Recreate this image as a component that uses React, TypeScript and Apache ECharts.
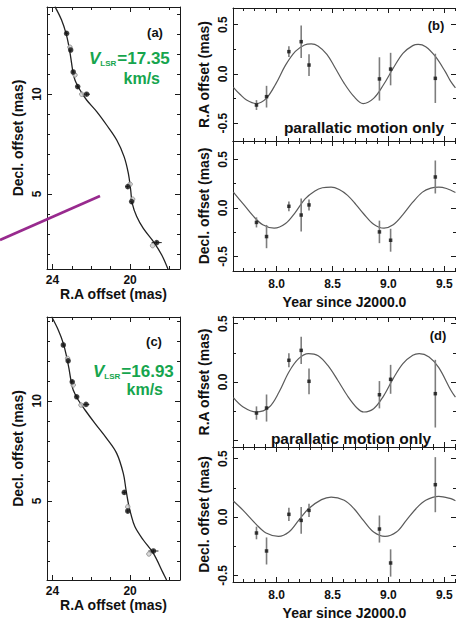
import React, { useEffect, useRef } from "react";
import * as echarts from "echarts";

const FONT = '"Liberation Sans", Arial, Helvetica, sans-serif';
const GREEN = "#16a54e";

// epochs of the 8 observations (year since J2000.0)
const epochs = [7.82, 7.91, 8.11, 8.22, 8.29, 8.92, 9.02, 9.42];

// (b) parallactic residuals
const bRA = [-0.315, -0.23, 0.227, 0.328, 0.091, -0.05, 0.05, -0.044];
const bRAErr = [0.05, 0.11, 0.055, 0.165, 0.11, 0.22, 0.165, 0.25];
const bDec = [-0.149, -0.295, 0.017, -0.073, 0.031, -0.247, -0.333, 0.319];
const bDecErr = [0.052, 0.12, 0.05, 0.17, 0.057, 0.116, 0.118, 0.17];
// (d) parallactic residuals
const dRA = [-0.266, -0.223, 0.186, 0.271, 0.006, -0.109, 0.023, -0.1];
const dRAErr = [0.057, 0.116, 0.06, 0.117, 0.11, 0.117, 0.124, 0.29];
const dDec = [-0.137, -0.291, 0.023, -0.029, 0.057, -0.103, -0.394, 0.277];
const dDecErr = [0.054, 0.116, 0.057, 0.114, 0.057, 0.116, 0.117, 0.236];

// model curves
const bRACurveT = [7.613, 7.672, 7.731, 7.818, 7.906, 7.993, 8.08, 8.168, 8.25, 8.31, 8.37, 8.45, 8.518, 8.605, 8.693, 8.774, 8.868, 8.955, 9.043, 9.13, 9.218, 9.267, 9.334, 9.422, 9.509, 9.559, 9.6];
const bRACurveV = [-0.135, -0.206, -0.264, -0.3, -0.25, -0.1, 0.09, 0.23, 0.295, 0.305, 0.285, 0.2, 0.074, -0.095, -0.23, -0.3, -0.247, -0.112, 0.058, 0.21, 0.288, 0.301, 0.277, 0.176, 0.024, -0.078, -0.14];
const bDecCurveT = [7.613, 7.701, 7.788, 7.876, 7.978, 8.08, 8.168, 8.255, 8.343, 8.41, 8.488, 8.56, 8.635, 8.71, 8.78, 8.868, 8.961, 9.043, 9.13, 9.218, 9.305, 9.38, 9.451, 9.52, 9.6];
const bDecCurveV = [0.163, 0.042, -0.08, -0.174, -0.208, -0.16, -0.045, 0.094, 0.175, 0.208, 0.215, 0.19, 0.13, 0.035, -0.0625, -0.167, -0.208, -0.174, -0.069, 0.059, 0.163, 0.205, 0.215, 0.2, 0.16];
const dRACurveT = [7.613, 7.701, 7.818, 7.935, 8.022, 8.11, 8.197, 8.285, 8.372, 8.46, 8.547, 8.635, 8.722, 8.78, 8.868, 8.955, 9.043, 9.13, 9.218, 9.276, 9.364, 9.451, 9.559, 9.6];
const dRACurveV = [-0.134, -0.214, -0.257, -0.214, -0.086, 0.086, 0.2, 0.243, 0.225, 0.14, 0.015, -0.12, -0.225, -0.257, -0.229, -0.123, 0.029, 0.157, 0.229, 0.243, 0.214, 0.123, -0.071, -0.13];
const dDecCurveT = [7.613, 7.701, 7.818, 7.906, 8.017, 8.11, 8.197, 8.285, 8.402, 8.488, 8.605, 8.693, 8.78, 8.868, 8.97, 9.072, 9.16, 9.247, 9.334, 9.451, 9.559, 9.6];
const dDecCurveV = [0.137, 0.057, -0.063, -0.137, -0.166, -0.129, -0.029, 0.071, 0.149, 0.171, 0.143, 0.071, -0.034, -0.129, -0.166, -0.129, -0.029, 0.071, 0.143, 0.177, 0.157, 0.14];

// (a) sky track, V_LSR = 17.35 km/s
const aCurveRA = [23.87, 23.53, 23.3, 23.15, 23.05, 22.96, 22.84, 22.58, 22.24, 21.72, 21.21, 20.69, 20.31, 20.09, 19.97, 19.89, 19.66, 19.32, 18.8, 18.37, 18.03];
const aCurveDec = [14.37, 13.7, 13.03, 12.37, 11.78, 11.2, 10.7, 10.2, 9.7, 9.12, 8.45, 7.7, 6.87, 6.03, 5.2, 4.53, 3.87, 3.28, 2.62, 1.95, 1.2];
const aBlackRA = [23.27, 23.06, 22.93, 22.7, 22.24, 20.12, 19.92, 18.63];
const aBlackDec = [13.03, 12.2, 11.1, 10.37, 9.99, 5.37, 4.62, 2.57];
const aBlackRAErr = [0.08, 0.08, 0.08, 0.08, 0.17, 0.12, 0.08, 0.26];
const aBlackDecErr = [0.1, 0.1, 0.1, 0.1, 0.08, 0.1, 0.12, 0.08];
const aGrayRA = [23.1, 22.84, 22.49, 20.0, 19.87, 18.84];
const aGrayDec = [12.34, 10.95, 9.99, 5.49, 4.74, 2.42];

// (c) sky track, V_LSR = 16.93 km/s
const cCurveRA = [24.04, 23.7, 23.44, 23.27, 23.15, 23.05, 22.93, 22.67, 22.32, 21.81, 21.21, 20.69, 20.35, 20.21, 20.09, 19.97, 19.75, 19.32, 18.8, 18.29, 18.12];
const cCurveDec = [14.2, 13.54, 12.87, 12.2, 11.62, 11.04, 10.54, 10.04, 9.54, 8.87, 8.12, 7.37, 6.37, 5.54, 4.87, 4.37, 3.7, 3.04, 2.37, 1.37, 1.04];
const cBlackRA = [23.44, 23.19, 22.98, 22.75, 22.27, 20.3, 20.12, 18.8];
const cBlackDec = [12.79, 12.0, 10.95, 10.2, 9.82, 5.42, 4.49, 2.49];
const cBlackRAErr = [0.08, 0.08, 0.08, 0.08, 0.17, 0.1, 0.08, 0.26];
const cBlackDecErr = [0.1, 0.1, 0.1, 0.1, 0.08, 0.1, 0.12, 0.08];
const cGrayRA = [23.22, 22.93, 22.53, 20.12, 19.03];
const cGrayDec = [12.12, 10.79, 9.79, 4.7, 2.34];

// tick positions / labels
const skyXMajor = [20, 24];
const skyXMinor = [18, 19, 21, 22, 23];
const skyYMajor = [5, 10];
const skyYMinor = [2, 3, 4, 6, 7, 8, 9, 11, 12, 13, 14];
const yearMajor = [8.0, 8.5, 9.0, 9.5];
const yearMinor = [7.7, 7.8, 7.9, 8.1, 8.2, 8.3, 8.4, 8.6, 8.7, 8.8, 8.9, 9.1, 9.2, 9.3, 9.4, 9.6];
const offMajor = [-0.5, 0, 0.5];
const offMinor = [-0.25, 0.25];

type Spec = {
  min: number; max: number; inverse?: boolean;
  majors: number[]; minors: number[]; labels: number[];
  fmt: (v: number) => string; name: string; nameGap: number; margin: number;
};

function buildOption() {
  const grids: any[] = [];
  const xAxes: any[] = [];
  const yAxes: any[] = [];
  const series: any[] = [];

  const axis = (s: Spec, gridIndex: number, position: string, major: boolean, showLabel: boolean, showName: boolean, isY: boolean) => ({
    type: "value", gridIndex, position, min: s.min, max: s.max, inverse: !!s.inverse,
    axisLine: { show: major, onZero: false, lineStyle: { color: "#1a1a1a", width: 1 } },
    axisTick: { show: true, inside: true, length: major ? 5 : 3, customValues: major ? s.majors : s.minors, lineStyle: { color: "#1a1a1a", width: 1 } },
    axisLabel: { show: showLabel, customValues: s.labels, formatter: (v: number) => s.fmt(v), rotate: isY ? 90 : 0, margin: s.margin, fontFamily: FONT, fontWeight: "bold", fontSize: 12, color: "#111" },
    splitLine: { show: false },
    name: showName ? s.name : "", nameLocation: "middle", nameGap: s.nameGap, nameRotate: isY ? 90 : 0,
    nameTextStyle: { fontFamily: FONT, fontWeight: "bold", fontSize: 14, color: "#111" },
  });

  const addPanel = (rect: any, xs: Spec, ys: Spec, xLab: boolean, yLab: boolean) => {
    const g = grids.length;
    grids.push({ ...rect }, { ...rect });
    const xi = xAxes.length;
    xAxes.push(axis(xs, g, "bottom", true, xLab, xLab, false));
    xAxes.push(axis(xs, g, "top", true, false, false, false));
    xAxes.push(axis(xs, g + 1, "bottom", false, false, false, false));
    xAxes.push(axis(xs, g + 1, "top", false, false, false, false));
    const yi = yAxes.length;
    yAxes.push(axis(ys, g, "left", true, yLab, yLab, true));
    yAxes.push(axis(ys, g, "right", true, false, false, true));
    yAxes.push(axis(ys, g + 1, "left", false, false, false, true));
    yAxes.push(axis(ys, g + 1, "right", false, false, false, true));
    return { xi, yi };
  };

  const errBars = (ax: { xi: number; yi: number }, data: number[][], color: string, width: number) => ({
    type: "custom", xAxisIndex: ax.xi, yAxisIndex: ax.yi, data, silent: true, z: 3,
    encode: { x: 0, y: 1 },
    renderItem: (_p: any, api: any) => {
      const x = api.value(0), y = api.value(1), ex = api.value(2), ey = api.value(3);
      const children: any[] = [];
      if (ey > 0) {
        const p1 = api.coord([x, y - ey]), p2 = api.coord([x, y + ey]);
        children.push({ type: "line", shape: { x1: p1[0], y1: p1[1], x2: p2[0], y2: p2[1] }, style: { stroke: color, lineWidth: width } });
      }
      if (ex > 0) {
        const p1 = api.coord([x - ex, y]), p2 = api.coord([x + ex, y]);
        children.push({ type: "line", shape: { x1: p1[0], y1: p1[1], x2: p2[0], y2: p2[1] }, style: { stroke: color, lineWidth: width } });
      }
      return { type: "group", children };
    },
  });

  const curve = (ax: { xi: number; yi: number }, xs: number[], ys: number[], color: string, width: number) => ({
    type: "line", xAxisIndex: ax.xi, yAxisIndex: ax.yi, data: xs.map((x, i) => [x, ys[i]]),
    smooth: 0.35, symbol: "none", showSymbol: false, silent: true, z: 2,
    lineStyle: { color, width },
  });

  const fmt0 = (v: number) => v.toFixed(0);
  const fmt1 = (v: number) => v.toFixed(1);

  const skyX: Spec = { min: 17.43, max: 24.28, inverse: true, majors: skyXMajor, minors: skyXMinor, labels: skyXMajor, fmt: fmt0, name: "R.A offset (mas)", nameGap: 18, margin: 5 };
  const skyYa: Spec = { min: 1.25, max: 14.35, majors: skyYMajor, minors: skyYMinor, labels: skyYMajor, fmt: fmt0, name: "Decl. offset (mas)", nameGap: 22, margin: 4 };
  const skyYc: Spec = { ...skyYa, min: 1.04, max: 14.19 };
  const yearX: Spec = { min: 7.61, max: 9.605, majors: yearMajor, minors: yearMinor, labels: yearMajor, fmt: fmt1, name: "Year since J2000.0", nameGap: 24, margin: 7 };
  const offRA: Spec = { min: -0.68, max: 0.67, majors: offMajor, minors: offMinor, labels: offMajor, fmt: fmt1, name: "R.A offset (mas)", nameGap: 22, margin: 4 };
  const offDecB: Spec = { ...offRA, min: -0.65, max: 0.69, name: "Decl. offset (mas)" };
  const offRAD: Spec = { ...offRA, min: -0.557, max: 0.557, labels: [0, 0.5] };
  const offDecD: Spec = { ...offRA, min: -0.557, max: 0.6, name: "Decl. offset (mas)" };

  const A = addPanel({ left: 47, top: 7, width: 133, height: 262 }, skyX, skyYa, true, true);
  const B1 = addPanel({ left: 233, top: 8, width: 228, height: 133 }, yearX, offRA, false, true);
  const B2 = addPanel({ left: 233, top: 141, width: 228, height: 130 }, yearX, offDecB, true, true);
  const C = addPanel({ left: 47, top: 317, width: 133, height: 263 }, skyX, skyYc, true, true);
  const D1 = addPanel({ left: 233, top: 317, width: 228, height: 130 }, yearX, offRAD, false, true);
  const D2 = addPanel({ left: 233, top: 447, width: 228, height: 135 }, yearX, offDecD, true, true);

  const skyPanel = (ax: any, cRA: number[], cDec: number[], bRAv: number[], bDecv: number[], bRAe: number[], bDece: number[], gRA: number[], gDec: number[]) => {
    series.push(curve(ax, cRA, cDec, "#222", 1.3));
    series.push(errBars(ax, bRAv.map((r, i) => [r, bDecv[i], bRAe[i], bDece[i]]), "#222", 1));
    series.push({ type: "scatter", xAxisIndex: ax.xi, yAxisIndex: ax.yi, data: gRA.map((r, i) => [r, gDec[i]]), symbol: "circle", symbolSize: 4.5, silent: true, z: 4, itemStyle: { color: "#d0d0d0", borderColor: "#8a8a8a", borderWidth: 1 } });
    series.push({ type: "scatter", xAxisIndex: ax.xi, yAxisIndex: ax.yi, data: bRAv.map((r, i) => [r, bDecv[i]]), symbol: "circle", symbolSize: 5.5, silent: true, z: 5, itemStyle: { color: "#161616" } });
  };
  const resPanel = (ax: any, cT: number[], cV: number[], vals: number[], errs: number[]) => {
    series.push(curve(ax, cT, cV, "#5a5a5a", 1.2));
    series.push(errBars(ax, epochs.map((t, i) => [t, vals[i], 0, errs[i]]), "#7d7d7d", 1.6));
    series.push({ type: "scatter", xAxisIndex: ax.xi, yAxisIndex: ax.yi, data: epochs.map((t, i) => [t, vals[i]]), symbol: "rect", symbolSize: 3.5, silent: true, z: 5, itemStyle: { color: "#111" } });
  };

  skyPanel(A, aCurveRA, aCurveDec, aBlackRA, aBlackDec, aBlackRAErr, aBlackDecErr, aGrayRA, aGrayDec);
  skyPanel(C, cCurveRA, cCurveDec, cBlackRA, cBlackDec, cBlackRAErr, cBlackDecErr, cGrayRA, cGrayDec);
  resPanel(B1, bRACurveT, bRACurveV, bRA, bRAErr);
  resPanel(B2, bDecCurveT, bDecCurveV, bDec, bDecErr);
  resPanel(D1, dRACurveT, dRACurveV, dRA, dRAErr);
  resPanel(D2, dDecCurveT, dDecCurveV, dDec, dDecErr);

  const txt = (x: number, y: number, text: string, size: number, fill = "#111", align = "center") => ({
    type: "text", x, y, z: 100, silent: true,
    style: { text, fill, fontFamily: FONT, fontWeight: "bold", fontSize: size, align, verticalAlign: "middle" },
  });
  const vlsr = (x: number, y: number, value: string) => ({
    type: "text", x, y, z: 100, silent: true,
    style: {
      text: "{v|V}{s|LSR}{n|=" + value + "}", align: "left", verticalAlign: "middle",
      fontFamily: FONT, fontWeight: "bold", fontSize: 17, fill: GREEN,
      rich: {
        v: { fontFamily: FONT, fontWeight: "bold", fontStyle: "italic", fontSize: 17, lineHeight: 18, fill: GREEN, verticalAlign: "middle" },
        s: { fontFamily: FONT, fontWeight: "bold", fontSize: 8, lineHeight: 9, fill: GREEN, verticalAlign: "bottom", padding: [0, 1, 0, 0] },
        n: { fontFamily: FONT, fontWeight: "bold", fontSize: 17, lineHeight: 18, fill: GREEN, verticalAlign: "middle" },
      },
    },
  });

  const graphic = [
    { type: "line", z: 100, silent: true, shape: { x1: 0, y1: 240, x2: 100, y2: 196 }, style: { stroke: "#982a8e", lineWidth: 2.6 } },
    txt(155, 32, "(a)", 13),
    txt(154, 341, "(c)", 13),
    txt(436, 25, "(b)", 13),
    txt(438, 335, "(d)", 13),
    txt(364, 127, "parallatic motion only", 15.5),
    txt(351, 438, "parallatic motion only", 15.5),
    vlsr(89, 58, "17.35"),
    txt(160, 78, "km/s", 16, GREEN, "right"),
    vlsr(93, 371, "16.93"),
    txt(163, 389, "km/s", 16, GREEN, "right"),
  ];

  return { animation: false, backgroundColor: "#fff", grid: grids, xAxis: xAxes, yAxis: yAxes, series, graphic };
}

export default function App() {
  const ref = useRef<HTMLDivElement>(null);
  useEffect(() => {
    document.body.style.margin = "0";
    const chart = echarts.init(ref.current as HTMLDivElement, undefined, { renderer: "svg", width: 456, height: 621 });
    chart.setOption(buildOption() as any);
    return () => chart.dispose();
  }, []);
  return <div ref={ref} style={{ position: "absolute", left: 0, top: 0, width: 456, height: 621, overflow: "hidden", background: "#fff" }} />;
}
